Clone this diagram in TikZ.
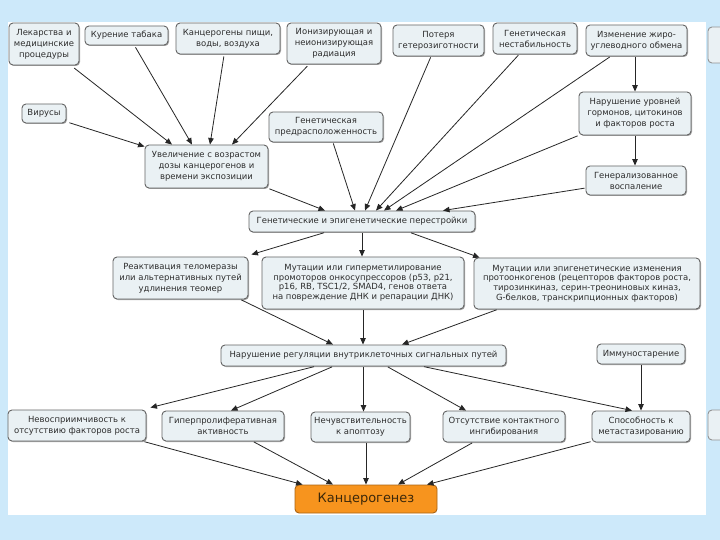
\documentclass[tikz,border=0pt]{standalone}
\usepackage{fontspec}
\setmainfont{DejaVu Sans}
\usetikzlibrary{arrows.meta,shadows}
\definecolor{bgblue}{RGB}{205,233,250}
\definecolor{boxfill}{RGB}{234,241,244}
\definecolor{boxdraw}{RGB}{100,100,100}
\definecolor{txt}{RGB}{45,45,45}
\definecolor{orfill}{RGB}{247,148,30}
\definecolor{ordraw}{RGB}{170,100,20}
\tikzset{
  box/.style={draw=boxdraw, fill=boxfill, line width=0.9bp, rounded corners=4bp,
    align=center, inner sep=1bp, text=txt,
    font=\fontsize{8.5}{11}\selectfont,
    drop shadow={shadow xshift=1bp, shadow yshift=-1bp, fill=black, opacity=0.35}},
  tight/.style={font=\fontsize{8.5}{9.6}\selectfont},
  orbox/.style={draw=ordraw, fill=orfill, line width=0.9bp, rounded corners=4bp,
    text={rgb,255:red,60;green,40;blue,10}, font=\fontsize{13}{15}\selectfont},
  arr/.style={-{Triangle[length=6.5bp,width=5.5bp]}, line width=0.8bp, black!85, shorten <=1bp},
}
\begin{document}
\begin{tikzpicture}[x=1bp,y=-1bp]
\fill[bgblue] (0,0) rectangle (720,540);
\fill[white] (8,22) rectangle (706,515);
\begin{scope}
\clip (706,0) rectangle (720,540);
\draw[boxdraw!70, fill=boxfill, line width=0.9bp, rounded corners=4bp] (708,27) rectangle (760,63);
\draw[boxdraw!70, fill=boxfill, line width=0.9bp, rounded corners=4bp] (708,410) rectangle (760,440);
\end{scope}
% row 1
\node[box, minimum width=70bp, minimum height=42bp] (lek) at (44,44) {Лекарства и\\медицинские\\процедуры};
\node[box, minimum width=83bp, minimum height=19bp] (kur) at (126.5,35.5) {Курение табака};
\node[box, minimum width=104bp, minimum height=31bp] (kan) at (228,38.5) {Канцерогены пищи,\\воды, воздуха};
\node[box, minimum width=94bp, minimum height=41bp] (ion) at (334,43.5) {Ионизирующая и\\неионизирующая\\радиация};
\node[box, minimum width=91bp, minimum height=31bp] (pot) at (438.5,40.5) {Потеря\\гетерозиготности};
\node[box, minimum width=84bp, minimum height=31bp] (nes) at (535,38.5) {Генетическая\\нестабильность};
\node[box, minimum width=101bp, minimum height=31bp] (izm) at (636.5,40.5) {Изменение жиро-\\углеводного обмена};
% row 2
\node[box, minimum width=44bp, minimum height=19bp] (vir) at (44,113.5) {Вирусы};
\node[box, minimum width=114bp, minimum height=30bp] (pred) at (326,127) {Генетическая\\предрасположенность};
\node[box, minimum width=112bp, minimum height=43bp] (gorm) at (635,113.5) {Нарушение уровней\\гормонов, цитокинов\\и факторов роста};
\node[box, minimum width=123bp, minimum height=43bp] (uv) at (206.5,166.5) {Увеличение с возрастом\\дозы канцерогенов и\\времени экспозиции};
\node[box, minimum width=100bp, minimum height=29bp] (vosp) at (636,180.5) {Генерализованное\\воспаление};
% row 3
\node[box, minimum width=226bp, minimum height=21bp] (gen) at (362,221.5) {Генетические и эпигенетические перестройки};
% row 4
\node[box, minimum width=135bp, minimum height=42bp] (tel) at (180.5,278) {Реактивация теломеразы\\или альтернативных путей\\удлинения теомер};
\node[box, tight, minimum width=202bp, minimum height=52bp] (sup) at (363,283) {Мутации или гиперметилирование\\промоторов онкосупрессоров (p53, p21,\\p16, RB, TSC1/2, SMAD4, генов ответа\\на повреждение ДНК и репарации ДНК)};
\node[box, tight, minimum width=226bp, minimum height=51bp] (onk) at (587,283.5) {Мутации или эпигенетические изменения\\протоонкогенов (рецепторов факторов роста,\\тирозинкиназ, серин-треониновых киназ,\\G-белков, транскрипционных факторов)};
% row 5
\node[box, minimum width=285bp, minimum height=21bp] (nr) at (363.5,355.5) {Нарушение регуляции внутриклеточных сигнальных путей};
\node[box, minimum width=88bp, minimum height=20bp] (imm) at (641,354) {Иммуностарение};
% row 6
\node[box, minimum width=138bp, minimum height=31bp] (nev) at (77,425.5) {Невосприимчивость к\\отсутствию факторов роста};
\node[box, minimum width=122bp, minimum height=30bp] (gip) at (223,426) {Гиперпролиферативная\\активность};
\node[box, minimum width=99bp, minimum height=30bp] (apo) at (360.5,427) {Нечувствительность\\к апоптозу};
\node[box, minimum width=122bp, minimum height=31bp] (kon) at (504,426.5) {Отсутствие контактного\\ингибирования};
\node[box, minimum width=98bp, minimum height=31bp] (met) at (641,426.5) {Способность к\\метастазированию};
% row 7
\node[orbox, minimum width=142bp, minimum height=28bp] (kar) at (366,499) {Канцерогенез};
% arrows into uv
\draw[arr] ([xshift=-6bp,yshift=-2bp]lek.south east) -- ([xshift=-34.5bp]uv.north);
\draw[arr] ([xshift=8.5bp,yshift=-1bp]kur.south) -- ([xshift=-14.5bp]uv.north);
\draw[arr] ([xshift=-4bp,yshift=-1bp]kan.south) -- ([xshift=3.5bp]uv.north);
\draw[arr] ([xshift=-26bp,yshift=-1bp]ion.south) -- ([xshift=25.5bp]uv.north);
\draw[arr] ([xshift=2bp,yshift=1bp]vir.south east) -- ([yshift=-2bp]uv.north west);
% arrows into gen
\draw[arr] (uv.south east) -- ([xshift=-37bp]gen.north);
\draw[arr] ([xshift=7bp]pred.south) -- ([xshift=-7bp]gen.north);
\draw[arr] ([xshift=-7.5bp]pot.south) -- ([xshift=3bp]gen.north);
\draw[arr] ([xshift=-16bp]nes.south) -- ([xshift=14bp]gen.north);
\draw[arr] ([xshift=-26bp]izm.south) -- ([xshift=22bp]gen.north);
\draw[arr] (gorm.south west) -- ([xshift=34bp]gen.north);
\draw[arr] ([yshift=-7.5bp]vosp.west) -- ([xshift=81bp]gen.north);
\draw[arr] (izm.south -| gorm.north) -- (gorm.north);
\draw[arr] (gorm.south) -- (gorm.south |- vosp.north);
% from gen
\draw[arr] ([xshift=-37bp]gen.south) -- ([xshift=3bp,yshift=2bp]tel.north east);
\draw[arr] (gen.south) -- (gen.south |- sup.north);
\draw[arr] ([xshift=48bp]gen.south) -- ([xshift=6bp]onk.north west);
% into nr
\draw[arr] ([xshift=-8bp]tel.south east) -- ([xshift=-30.5bp]nr.north);
\draw[arr] (sup.south) -- (sup.south |- nr.north);
\draw[arr] ([xshift=24bp]onk.south west) -- ([xshift=38.5bp]nr.north);
% from nr
\draw[arr] ([xshift=-48.5bp]nr.south) -- ([xshift=4bp,yshift=2bp]nev.north east);
\draw[arr] ([xshift=-30.5bp]nr.south) -- ([xshift=8bp]gip.north);
\draw[arr] (nr.south) -- (nr.south |- apo.north);
\draw[arr] ([xshift=23.5bp]nr.south) -- ([xshift=-38bp]kon.north);
\draw[arr] ([xshift=59.5bp]nr.south) -- ([xshift=-9bp]met.north);
\draw[arr] (imm.south) -- (imm.south |- met.north);
% into kar
\draw[arr] ([xshift=-3bp]nev.south east) -- ([xshift=8bp]kar.north west);
\draw[arr] ([xshift=30bp]gip.south) -- ([xshift=-33bp]kar.north);
\draw[arr] (apo.south -| kar.north) -- (kar.north);
\draw[arr] ([xshift=-31bp]kon.south) -- ([xshift=32bp]kar.north);
\draw[arr] ([yshift=1bp]met.south west) -- ([xshift=61bp]kar.north);
\end{tikzpicture}
\end{document}
